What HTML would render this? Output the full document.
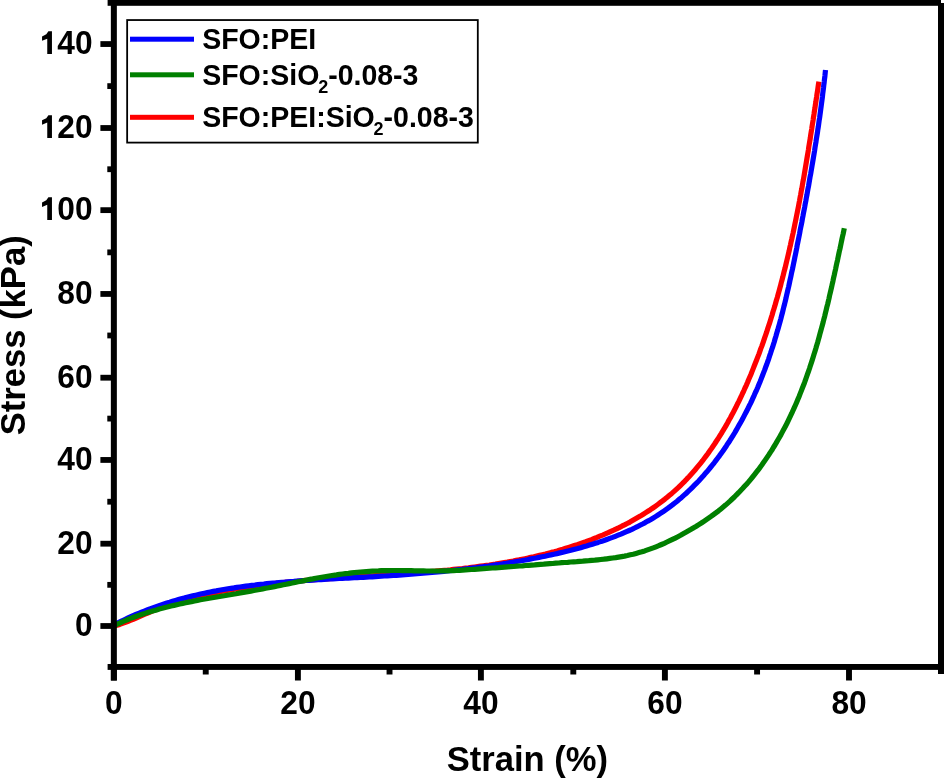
<!DOCTYPE html>
<html><head><meta charset="utf-8"><style>
html,body{margin:0;padding:0;background:#fff;overflow:hidden;width:944px;height:779px;}
svg{display:block;will-change:transform;}
text{font-family:"Liberation Sans",sans-serif;font-weight:bold;fill:#000;}
.tl{font-size:31.7px;}
.at{font-size:34.6px;}
.lg{font-size:28.5px;}
.sub{font-size:18px;}
</style></head><body>
<svg width="944" height="779" viewBox="0 0 944 779">
<rect width="944" height="779" fill="#fff"/>

<polyline points="114.0,626.1 116.9,625.3 119.8,624.4 122.6,623.4 125.4,622.4 128.2,621.3 131.0,620.2 133.8,619.0 136.6,617.8 139.4,616.6 142.1,615.4 144.9,614.2 147.7,613.0 150.5,611.8 153.3,610.7 156.1,609.5 158.9,608.4 161.7,607.4 164.5,606.4 167.4,605.4 170.2,604.4 173.1,603.5 176.0,602.6 178.8,601.7 181.7,600.8 184.6,600.0 187.5,599.2 190.4,598.4 193.3,597.7 196.2,597.0 199.2,596.3 202.1,595.6 205.0,594.9 208.0,594.3 210.9,593.6 213.9,593.0 216.8,592.4 219.8,591.8 222.7,591.3 225.7,590.7 228.6,590.2 231.6,589.7 234.5,589.2 237.5,588.7 240.5,588.2 243.4,587.7 246.4,587.3 249.4,586.8 252.3,586.4 255.3,586.0 258.3,585.6 261.3,585.2 264.3,584.8 267.2,584.4 270.2,584.1 273.2,583.7 276.2,583.4 279.2,583.1 282.2,582.7 285.2,582.4 288.1,582.1 291.1,581.8 294.1,581.5 297.1,581.3 300.1,581.0 303.1,580.7 306.1,580.4 309.1,580.2 312.1,579.9 315.1,579.7 318.1,579.5 321.1,579.2 324.1,579.0 327.1,578.8 330.1,578.6 333.2,578.3 336.2,578.1 339.2,577.9 342.2,577.7 345.2,577.5 348.2,577.3 351.2,577.1 354.2,576.9 357.2,576.7 360.2,576.5 363.3,576.3 366.3,576.2 369.3,576.0 372.3,575.8 375.3,575.6 378.3,575.4 381.3,575.2 384.3,575.0 387.4,574.8 390.4,574.6 393.4,574.4 396.4,574.2 399.4,574.0 402.4,573.8 405.4,573.6 408.4,573.3 411.5,573.1 414.5,572.9 417.5,572.7 420.5,572.4 423.5,572.2 426.5,572.0 429.5,571.7 432.5,571.4 435.5,571.2 438.5,570.9 441.5,570.6 444.5,570.3 447.5,570.1 450.5,569.8 453.5,569.4 456.5,569.1 459.5,568.8 462.5,568.5 465.5,568.1 468.5,567.8 471.5,567.4 474.5,567.0 477.5,566.6 480.5,566.2 483.5,565.8 486.5,565.4 489.4,565.0 492.4,564.5 495.4,564.1 498.4,563.6 501.3,563.1 504.3,562.6 507.3,562.1 510.2,561.5 513.2,561.0 516.1,560.4 519.1,559.9 522.0,559.3 525.0,558.7 527.9,558.1 530.8,557.4 533.8,556.8 536.7,556.1 539.6,555.4 542.5,554.7 545.5,554.0 548.4,553.2 551.3,552.4 554.2,551.7 557.1,550.9 560.0,550.0 562.8,549.2 565.7,548.3 568.6,547.4 571.5,546.5 574.3,545.6 577.2,544.7 580.1,543.7 582.9,542.7 585.8,541.7 588.6,540.6 591.4,539.6 594.2,538.5 597.0,537.4 599.8,536.2 602.6,535.1 605.4,533.9 608.2,532.7 610.9,531.4 613.7,530.2 616.4,528.9 619.1,527.6 621.8,526.2 624.5,524.9 627.2,523.5 629.9,522.1 632.5,520.6 635.1,519.1 637.7,517.6 640.3,516.1 642.9,514.5 645.4,512.9 647.9,511.3 650.4,509.7 652.9,508.0 655.3,506.3 657.8,504.5 660.2,502.7 662.6,500.9 664.9,499.1 667.2,497.2 669.5,495.3 671.8,493.4 674.1,491.4 676.3,489.4 678.5,487.4 680.6,485.3 682.8,483.2 684.9,481.1 686.9,478.9 689.0,476.7 691.0,474.5 693.0,472.3 695.0,470.0 696.9,467.7 698.8,465.4 700.7,463.1 702.6,460.7 704.4,458.3 706.2,455.9 708.0,453.5 709.7,451.0 711.5,448.5 713.2,446.0 714.9,443.5 716.5,441.0 718.2,438.5 719.8,435.9 721.4,433.4 722.9,430.8 724.5,428.2 726.0,425.6 727.5,423.0 728.9,420.3 730.4,417.7 731.8,415.0 733.2,412.4 734.6,409.7 736.0,407.0 737.3,404.3 738.7,401.6 740.0,398.9 741.3,396.2 742.5,393.5 743.8,390.8 745.0,388.0 746.3,385.3 747.5,382.5 748.6,379.7 749.8,377.0 751.0,374.2 752.1,371.4 753.2,368.6 754.3,365.8 755.4,363.0 756.5,360.2 757.6,357.4 758.7,354.6 759.7,351.8 760.7,348.9 761.8,346.1 762.8,343.3 763.8,340.4 764.7,337.6 765.7,334.8 766.7,331.9 767.6,329.0 768.5,326.2 769.5,323.3 770.4,320.5 771.3,317.6 772.2,314.7 773.0,311.8 773.9,309.0 774.8,306.1 775.6,303.2 776.4,300.3 777.3,297.4 778.1,294.5 778.9,291.6 779.7,288.7 780.5,285.8 781.2,282.9 782.0,280.0 782.8,277.0 783.5,274.1 784.2,271.2 785.0,268.3 785.7,265.4 786.4,262.4 787.1,259.5 787.8,256.6 788.5,253.6 789.2,250.7 789.8,247.7 790.5,244.8 791.1,241.9 791.8,238.9 792.4,236.0 793.1,233.0 793.7,230.0 794.3,227.1 794.9,224.1 795.5,221.2 796.1,218.2 796.7,215.3 797.3,212.3 797.9,209.3 798.5,206.4 799.0,203.4 799.6,200.4 800.1,197.5 800.7,194.5 801.2,191.5 801.8,188.6 802.3,185.6 802.8,182.6 803.4,179.6 803.9,176.7 804.4,173.7 804.9,170.7 805.4,167.7 805.9,164.8 806.4,161.8 806.9,158.8 807.4,155.8 807.9,152.9 808.4,149.9 808.8,146.9 809.3,143.9 809.8,141.0 810.3,138.0 810.7,135.0 811.2,132.0 811.7,129.1 812.1,126.1 812.6,123.1 813.1,120.1 813.5,117.2 814.0,114.2 814.4,111.2 814.9,108.3 815.3,105.3 815.8,102.3 816.2,99.4 816.7,96.4 817.1,93.4 817.6,90.5 818.0,87.5 818.4,84.6 818.9,81.6" fill="none" stroke="#ff0000" stroke-width="5.2" stroke-linejoin="round"/>
<polyline points="113.9,625.0 116.6,623.6 119.4,622.2 122.1,620.8 124.8,619.5 127.6,618.2 130.3,617.0 133.1,615.7 135.9,614.5 138.7,613.3 141.5,612.2 144.3,611.1 147.1,610.0 149.9,608.9 152.7,607.9 155.5,606.9 158.3,605.9 161.2,604.9 164.0,604.0 166.9,603.0 169.7,602.2 172.6,601.3 175.5,600.4 178.4,599.6 181.2,598.8 184.1,598.1 187.0,597.3 189.9,596.6 192.8,595.9 195.7,595.2 198.6,594.5 201.6,593.8 204.5,593.2 207.4,592.6 210.3,592.0 213.3,591.4 216.2,590.9 219.2,590.3 222.1,589.8 225.1,589.3 228.0,588.8 231.0,588.3 234.0,587.9 236.9,587.4 239.9,587.0 242.9,586.6 245.8,586.2 248.8,585.8 251.8,585.4 254.8,585.1 257.8,584.7 260.8,584.4 263.8,584.1 266.8,583.7 269.8,583.4 272.8,583.1 275.8,582.9 278.8,582.6 281.8,582.3 284.8,582.1 287.8,581.8 290.8,581.6 293.8,581.4 296.9,581.1 299.9,580.9 302.9,580.7 305.9,580.5 308.9,580.3 312.0,580.1 315.0,579.9 318.0,579.7 321.0,579.6 324.0,579.4 327.1,579.2 330.1,579.0 333.1,578.9 336.1,578.7 339.1,578.5 342.1,578.4 345.2,578.2 348.2,578.1 351.2,577.9 354.2,577.7 357.2,577.6 360.2,577.4 363.3,577.3 366.3,577.1 369.3,576.9 372.3,576.8 375.3,576.6 378.3,576.4 381.3,576.2 384.3,576.0 387.3,575.8 390.3,575.7 393.3,575.5 396.3,575.3 399.2,575.1 402.2,574.8 405.2,574.6 408.2,574.4 411.2,574.2 414.2,573.9 417.1,573.7 420.1,573.5 423.1,573.2 426.1,573.0 429.0,572.7 432.0,572.4 435.0,572.2 438.0,571.9 440.9,571.6 443.9,571.3 446.9,571.0 449.8,570.7 452.8,570.4 455.8,570.0 458.7,569.7 461.7,569.4 464.7,569.0 467.6,568.7 470.6,568.3 473.6,567.9 476.5,567.6 479.5,567.2 482.5,566.8 485.4,566.4 488.4,566.0 491.4,565.5 494.3,565.1 497.3,564.7 500.3,564.2 503.3,563.7 506.2,563.3 509.2,562.8 512.2,562.3 515.1,561.8 518.1,561.3 521.1,560.8 524.1,560.2 527.1,559.7 530.0,559.1 533.0,558.5 536.0,558.0 539.0,557.4 542.0,556.8 545.0,556.2 547.9,555.5 550.9,554.9 553.9,554.2 556.9,553.6 559.9,552.9 562.9,552.2 565.8,551.5 568.8,550.8 571.8,550.0 574.8,549.2 577.7,548.5 580.7,547.7 583.6,546.8 586.5,546.0 589.5,545.1 592.4,544.2 595.3,543.3 598.2,542.4 601.1,541.4 604.0,540.5 606.8,539.5 609.7,538.4 612.5,537.4 615.3,536.3 618.1,535.2 620.9,534.1 623.7,532.9 626.5,531.7 629.2,530.5 631.9,529.3 634.6,528.0 637.3,526.7 640.0,525.3 642.6,524.0 645.2,522.6 647.8,521.1 650.4,519.7 652.9,518.2 655.5,516.6 658.0,515.0 660.4,513.4 662.9,511.8 665.3,510.1 667.7,508.4 670.1,506.6 672.4,504.9 674.8,503.0 677.1,501.2 679.3,499.3 681.6,497.4 683.8,495.4 686.0,493.5 688.2,491.4 690.3,489.4 692.4,487.3 694.5,485.2 696.6,483.1 698.7,481.0 700.7,478.8 702.7,476.6 704.6,474.3 706.6,472.1 708.5,469.8 710.4,467.5 712.3,465.2 714.2,462.8 716.0,460.4 717.8,458.0 719.6,455.6 721.3,453.2 723.1,450.7 724.8,448.2 726.5,445.7 728.1,443.2 729.8,440.7 731.4,438.1 733.0,435.6 734.6,433.0 736.1,430.4 737.6,427.8 739.1,425.1 740.6,422.5 742.1,419.8 743.5,417.1 744.9,414.4 746.3,411.7 747.7,409.0 749.0,406.3 750.4,403.6 751.7,400.8 752.9,398.1 754.2,395.3 755.4,392.5 756.7,389.8 757.9,387.0 759.0,384.2 760.2,381.4 761.3,378.6 762.4,375.8 763.5,372.9 764.6,370.1 765.6,367.3 766.7,364.5 767.7,361.6 768.7,358.8 769.6,355.9 770.6,353.1 771.5,350.2 772.5,347.4 773.4,344.5 774.3,341.7 775.1,338.8 776.0,335.9 776.8,333.0 777.7,330.1 778.5,327.3 779.3,324.4 780.1,321.5 780.9,318.6 781.6,315.7 782.4,312.8 783.1,309.9 783.8,307.0 784.6,304.0 785.3,301.1 786.0,298.2 786.6,295.3 787.3,292.4 788.0,289.4 788.7,286.5 789.3,283.6 789.9,280.7 790.6,277.7 791.2,274.8 791.8,271.8 792.5,268.9 793.1,266.0 793.7,263.0 794.3,260.1 794.9,257.1 795.5,254.2 796.1,251.2 796.7,248.3 797.2,245.3 797.8,242.4 798.4,239.4 799.0,236.5 799.6,233.5 800.1,230.6 800.7,227.6 801.3,224.7 801.9,221.7 802.4,218.8 803.0,215.8 803.5,212.9 804.1,209.9 804.7,206.9 805.2,204.0 805.8,201.0 806.3,198.1 806.9,195.1 807.4,192.1 807.9,189.2 808.5,186.2 809.0,183.2 809.5,180.3 810.0,177.3 810.6,174.3 811.1,171.4 811.6,168.4 812.1,165.4 812.6,162.5 813.1,159.5 813.6,156.5 814.1,153.6 814.6,150.6 815.0,147.6 815.5,144.6 816.0,141.7 816.4,138.7 816.9,135.7 817.4,132.8 817.8,129.8 818.3,126.8 818.7,123.8 819.1,120.8 819.6,117.9 820.0,114.9 820.4,111.9 820.8,108.9 821.2,105.9 821.6,103.0 822.0,100.0 822.4,97.0 822.7,94.0 823.1,91.0 823.5,88.0 823.8,85.1 824.2,82.1 824.5,79.1 824.9,76.1 825.2,73.1 825.5,70.1" fill="none" stroke="#0000ff" stroke-width="5.2" stroke-linejoin="round"/>
<polyline points="114.0,625.6 116.7,624.3 119.5,623.1 122.3,621.8 125.1,620.7 127.9,619.5 130.7,618.4 133.6,617.3 136.4,616.3 139.2,615.3 142.1,614.3 145.0,613.4 147.8,612.4 150.7,611.5 153.6,610.7 156.5,609.9 159.3,609.0 162.2,608.3 165.1,607.5 168.1,606.8 171.0,606.0 173.9,605.4 176.8,604.7 179.7,604.0 182.7,603.4 185.6,602.8 188.6,602.1 191.5,601.6 194.5,601.0 197.4,600.4 200.4,599.8 203.3,599.3 206.3,598.8 209.2,598.2 212.2,597.7 215.2,597.2 218.1,596.7 221.1,596.2 224.1,595.7 227.0,595.2 230.0,594.7 233.0,594.2 236.0,593.7 238.9,593.1 241.9,592.6 244.9,592.1 247.8,591.6 250.8,591.1 253.8,590.5 256.7,590.0 259.7,589.5 262.7,588.9 265.6,588.3 268.6,587.8 271.5,587.2 274.5,586.6 277.4,586.0 280.4,585.4 283.3,584.8 286.3,584.2 289.2,583.6 292.2,583.0 295.1,582.4 298.1,581.8 301.0,581.2 304.0,580.6 306.9,580.0 309.9,579.4 312.8,578.9 315.8,578.3 318.7,577.8 321.7,577.3 324.7,576.8 327.6,576.3 330.6,575.8 333.6,575.3 336.5,574.9 339.5,574.4 342.5,574.0 345.5,573.6 348.4,573.3 351.4,572.9 354.4,572.6 357.4,572.3 360.4,572.0 363.4,571.8 366.4,571.6 369.4,571.4 372.4,571.2 375.4,571.0 378.4,570.9 381.4,570.7 384.4,570.7 387.4,570.6 390.4,570.5 393.4,570.5 396.4,570.5 399.4,570.5 402.4,570.6 405.4,570.6 408.4,570.6 411.4,570.7 414.4,570.8 417.5,570.8 420.5,570.9 423.5,570.9 426.5,571.0 429.5,571.0 432.5,571.0 435.5,571.0 438.5,571.0 441.5,570.9 444.5,570.9 447.5,570.8 450.5,570.7 453.5,570.6 456.5,570.4 459.5,570.3 462.5,570.1 465.5,569.9 468.5,569.7 471.5,569.5 474.5,569.3 477.5,569.1 480.5,568.9 483.5,568.7 486.5,568.4 489.5,568.2 492.5,568.0 495.5,567.8 498.6,567.6 501.6,567.3 504.6,567.1 507.6,566.9 510.6,566.7 513.6,566.5 516.6,566.2 519.6,566.0 522.6,565.8 525.6,565.5 528.6,565.3 531.6,565.1 534.6,564.9 537.6,564.6 540.6,564.4 543.7,564.2 546.7,563.9 549.7,563.7 552.7,563.5 555.7,563.2 558.7,563.0 561.7,562.7 564.7,562.5 567.7,562.3 570.7,562.0 573.7,561.8 576.7,561.6 579.8,561.3 582.8,561.1 585.8,560.8 588.8,560.6 591.8,560.3 594.8,560.1 597.8,559.8 600.8,559.5 603.8,559.2 606.8,558.8 609.7,558.4 612.7,558.0 615.7,557.6 618.6,557.1 621.6,556.6 624.5,556.1 627.4,555.5 630.3,554.8 633.2,554.2 636.1,553.4 639.0,552.6 641.9,551.8 644.7,550.9 647.5,549.9 650.4,548.9 653.2,547.9 656.0,546.8 658.8,545.7 661.5,544.5 664.3,543.3 667.0,542.0 669.8,540.7 672.5,539.4 675.2,538.1 677.9,536.7 680.6,535.3 683.2,533.8 685.9,532.3 688.5,530.8 691.1,529.3 693.7,527.7 696.3,526.2 698.8,524.6 701.4,523.0 703.9,521.3 706.4,519.6 708.9,517.9 711.4,516.2 713.8,514.4 716.2,512.6 718.6,510.8 720.9,508.9 723.2,507.0 725.5,505.1 727.8,503.1 730.0,501.1 732.2,499.0 734.4,497.0 736.5,494.8 738.6,492.7 740.7,490.5 742.8,488.3 744.8,486.1 746.8,483.9 748.8,481.6 750.7,479.3 752.6,477.0 754.5,474.6 756.4,472.2 758.2,469.9 760.0,467.4 761.8,465.0 763.5,462.6 765.2,460.1 766.9,457.6 768.6,455.1 770.2,452.6 771.9,450.1 773.4,447.5 775.0,445.0 776.5,442.4 778.0,439.8 779.5,437.2 781.0,434.6 782.4,431.9 783.8,429.3 785.2,426.7 786.6,424.0 787.9,421.3 789.2,418.6 790.5,415.9 791.8,413.2 793.0,410.5 794.3,407.7 795.5,405.0 796.7,402.2 797.8,399.5 799.0,396.7 800.1,393.9 801.2,391.1 802.3,388.3 803.4,385.5 804.5,382.7 805.5,379.9 806.5,377.0 807.5,374.2 808.5,371.3 809.5,368.5 810.4,365.6 811.4,362.7 812.3,359.9 813.2,357.0 814.1,354.1 815.0,351.2 815.9,348.3 816.7,345.4 817.6,342.5 818.4,339.6 819.2,336.7 820.0,333.7 820.8,330.8 821.6,327.9 822.4,325.0 823.2,322.0 823.9,319.1 824.7,316.2 825.4,313.2 826.1,310.3 826.8,307.3 827.6,304.4 828.3,301.4 829.0,298.5 829.6,295.5 830.3,292.6 831.0,289.7 831.7,286.7 832.3,283.8 833.0,280.8 833.6,277.9 834.3,274.9 834.9,272.0 835.6,269.1 836.2,266.1 836.8,263.2 837.5,260.3 838.1,257.3 838.7,254.4 839.3,251.5 840.0,248.6 840.6,245.7 841.2,242.8 841.8,239.9 842.4,237.0 843.1,234.1 843.7,231.2 844.3,228.3" fill="none" stroke="#008000" stroke-width="5.2" stroke-linejoin="round"/>

<rect x="107.6" y="0" width="833.4" height="5.8" fill="#000"/><rect x="107.6" y="664.0" width="836.4" height="5.9" fill="#000"/><rect x="110.85" y="0" width="6" height="680.5" fill="#000"/><rect x="938" y="3" width="6" height="671" fill="#000"/><rect x="100.4" y="623.10" width="11" height="5.8" fill="#000"/><text transform="translate(92.6,635.90) scale(1.0,1.07)" class="tl" text-anchor="end">0</text><rect x="100.4" y="540.80" width="11" height="5.8" fill="#000"/><text transform="translate(92.6,553.60) scale(1.0,1.07)" class="tl" text-anchor="end">20</text><rect x="100.4" y="457.05" width="11" height="5.8" fill="#000"/><text transform="translate(92.6,469.85) scale(1.0,1.07)" class="tl" text-anchor="end">40</text><rect x="100.4" y="374.80" width="11" height="5.8" fill="#000"/><text transform="translate(92.6,387.60) scale(1.0,1.07)" class="tl" text-anchor="end">60</text><rect x="100.4" y="291.05" width="11" height="5.8" fill="#000"/><text transform="translate(92.6,303.85) scale(1.0,1.07)" class="tl" text-anchor="end">80</text><rect x="100.4" y="207.25" width="11" height="5.8" fill="#000"/><text transform="translate(92.6,220.05) scale(1.0,1.07)" class="tl" text-anchor="end">00</text><path d="M51.95,197.30 L51.95,220.05 L47.25,220.05 L47.25,204.75 L42.05,206.95 L42.05,202.50 L46.30,200.35 L48.40,197.30 Z" fill="#000"/><rect x="100.4" y="125.10" width="11" height="5.8" fill="#000"/><text transform="translate(92.6,137.90) scale(1.0,1.07)" class="tl" text-anchor="end">20</text><path d="M51.95,115.15 L51.95,137.90 L47.25,137.90 L47.25,122.60 L42.05,124.80 L42.05,120.35 L46.30,118.20 L48.40,115.15 Z" fill="#000"/><rect x="100.4" y="41.15" width="11" height="5.8" fill="#000"/><text transform="translate(92.6,53.95) scale(1.0,1.07)" class="tl" text-anchor="end">40</text><path d="M51.95,31.20 L51.95,53.95 L47.25,53.95 L47.25,38.65 L42.05,40.85 L42.05,36.40 L46.30,34.25 L48.40,31.20 Z" fill="#000"/><rect x="107.3" y="581.94" width="4" height="5.8" fill="#000"/><rect x="107.3" y="498.82" width="4" height="5.8" fill="#000"/><rect x="107.3" y="415.70" width="4" height="5.8" fill="#000"/><rect x="107.3" y="332.58" width="4" height="5.8" fill="#000"/><rect x="107.3" y="249.46" width="4" height="5.8" fill="#000"/><rect x="107.3" y="166.34" width="4" height="5.8" fill="#000"/><rect x="107.3" y="83.22" width="4" height="5.8" fill="#000"/><rect x="110.90" y="665" width="5.9" height="15.5" fill="#000"/><text transform="translate(113.85,714.4) scale(1.0,1.07)" class="tl" text-anchor="middle">0</text><rect x="294.95" y="665" width="5.9" height="15.5" fill="#000"/><text transform="translate(297.90,714.4) scale(1.0,1.07)" class="tl" text-anchor="middle">20</text><rect x="477.95" y="665" width="5.9" height="15.5" fill="#000"/><text transform="translate(480.90,714.4) scale(1.0,1.07)" class="tl" text-anchor="middle">40</text><rect x="661.95" y="665" width="5.9" height="15.5" fill="#000"/><text transform="translate(664.90,714.4) scale(1.0,1.07)" class="tl" text-anchor="middle">60</text><rect x="846.05" y="665" width="5.9" height="15.5" fill="#000"/><text transform="translate(849.00,714.4) scale(1.0,1.07)" class="tl" text-anchor="middle">80</text><rect x="202.79" y="665" width="5.9" height="9.5" fill="#000"/><rect x="386.57" y="665" width="5.9" height="9.5" fill="#000"/><rect x="570.35" y="665" width="5.9" height="9.5" fill="#000"/><rect x="754.13" y="665" width="5.9" height="9.5" fill="#000"/>

<rect x="127.15" y="20.05" width="350.65" height="122.55" fill="#fff" stroke="#000" stroke-width="1.8"/>
<rect x="130" y="36.7" width="64" height="5" fill="#0000ff"/>
<rect x="130" y="72.3" width="64" height="5" fill="#008000"/>
<rect x="130" y="114.8" width="64" height="5" fill="#ff0000"/>
<text class="lg" transform="translate(202.2,48.8) scale(1,1.06)">SFO:PEI</text>
<text class="lg" transform="translate(202.2,85.0) scale(1,1.06)">SFO:SiO<tspan class="sub" dx="-1.2" dy="7.6">2</tspan><tspan dy="-7.6">-0.08-3</tspan></text>
<text class="lg" transform="translate(202.2,126.9) scale(1,1.06)">SFO:PEI:SiO<tspan class="sub" dx="-1.2" dy="7.6">2</tspan><tspan dy="-7.6">-0.08-3</tspan></text>


<text class="at" transform="translate(446.7,771.3) scale(1,1.035)">Strain (%)</text>
<text class="at" transform="translate(25.3,435.3) rotate(-90) scale(1,1.035)">Stress (kPa)</text>

</svg>
</body></html>
